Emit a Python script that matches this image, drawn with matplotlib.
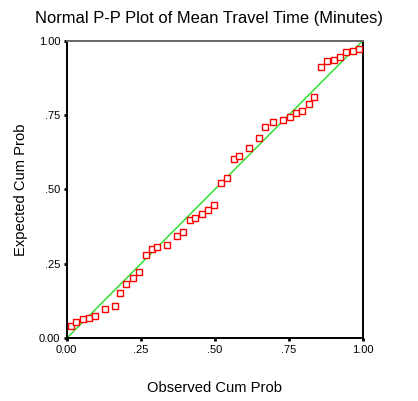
import matplotlib
matplotlib.use("Agg")
import matplotlib.pyplot as plt

plt.rcParams['font.family'] = ['Liberation Sans', 'DejaVu Sans']

# Observed vs expected cumulative probabilities
observed = [0.0135, 0.030, 0.054, 0.075, 0.097, 0.129, 0.162, 0.180, 0.201, 0.224,
            0.245, 0.267, 0.289, 0.306, 0.339, 0.371, 0.394, 0.417, 0.433, 0.456,
            0.477, 0.499, 0.520, 0.543, 0.564, 0.582, 0.615, 0.649, 0.670, 0.698,
            0.732, 0.753, 0.775, 0.796, 0.818, 0.837, 0.858, 0.879, 0.902, 0.923,
            0.945, 0.966, 0.986]
expected = [0.041, 0.055, 0.066, 0.069, 0.076, 0.098, 0.110, 0.152, 0.181, 0.203,
            0.222, 0.279, 0.300, 0.308, 0.315, 0.344, 0.358, 0.397, 0.405, 0.417,
            0.431, 0.449, 0.522, 0.540, 0.601, 0.611, 0.640, 0.674, 0.710, 0.728,
            0.735, 0.744, 0.758, 0.765, 0.786, 0.811, 0.913, 0.932, 0.936, 0.946,
            0.961, 0.964, 0.971]

ticks = [0.0, 0.25, 0.5, 0.75, 1.0]
tick_labels = ["0.00", ".25", ".50", ".75", "1.00"]

fig = plt.figure(figsize=(4.18, 4.01), dpi=100)
ax = fig.add_axes([0.1596, 0.1564, 0.7081, 0.7421])

ax.plot([0, 1], [0, 1], color='#22dd22', lw=1.0, zorder=2)
ax.plot(observed, expected, linestyle='none', marker='s', markersize=4.2,
        markerfacecolor='white', markeredgecolor='#ff0000', markeredgewidth=1.0,
        zorder=3)

ax.set_xlim(0, 1)
ax.set_ylim(0, 1)
ax.set_xticks(ticks)
ax.set_xticklabels(tick_labels)
ax.set_yticks(ticks)
ax.set_yticklabels(tick_labels)
ax.tick_params(axis='both', direction='out', length=2.5, width=2.0,
               labelsize=8, pad=2, color='black')

for side in ['left', 'bottom', 'right']:
    ax.spines[side].set_linewidth(1.4)
    ax.spines[side].set_color('black')
ax.spines['top'].set_linewidth(1.4)
ax.spines['top'].set_color('#666666')

fig.text(0.499, 0.955, "Normal P-P Plot of Mean Travel Time (Minutes)",
         fontsize=11.9, ha='center', va='center')
ax.set_xlabel("Observed Cum Prob", fontsize=10.6, labelpad=19)
ax.set_ylabel("Expected Cum Prob", fontsize=10.6, labelpad=8)

fig.savefig("out.png", dpi=100)
